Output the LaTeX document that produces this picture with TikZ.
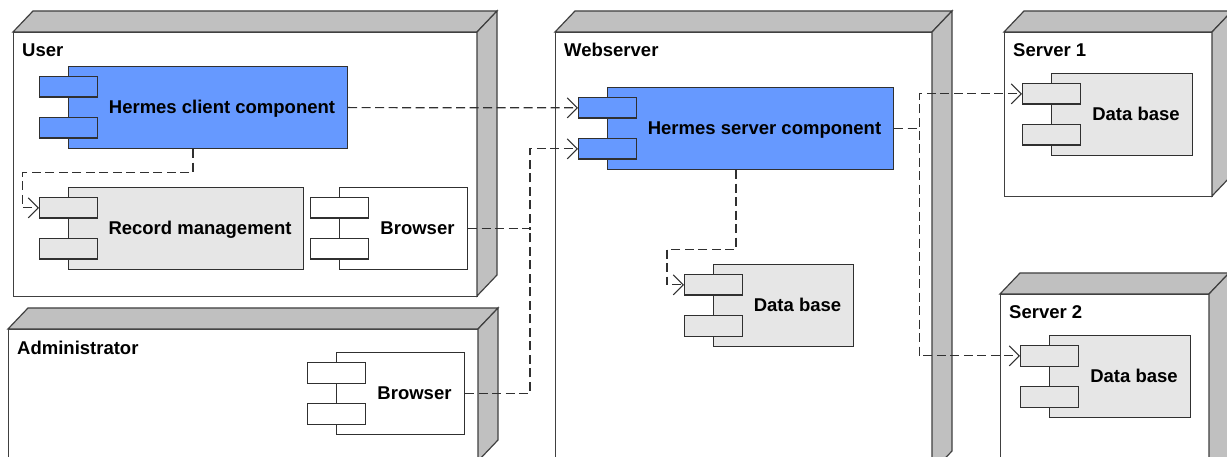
\documentclass[tikz,border=0pt]{standalone}
\usepackage{fontspec}
\setmainfont{Liberation Sans}
\usetikzlibrary{arrows.meta,calc}
\definecolor{compblue}{HTML}{6699FF}
\definecolor{compgray}{HTML}{E6E6E6}
\definecolor{sidegray}{HTML}{C0C0C0}
\definecolor{linegray}{HTML}{404040}
\definecolor{deepgray}{HTML}{303030}
\tikzset{
  devface/.style={draw=linegray, fill=white, line width=1.2pt, inner sep=0pt, rectangle},
  devside/.style={draw=linegray, fill=sidegray, line width=1.2pt, line join=miter},
  devlabel/.style={font=\bfseries\fontsize{18.5}{20}\selectfont, inner sep=0pt},
  compbody/.style={draw=deepgray, line width=1.2pt, inner sep=0pt, minimum height=82pt, rectangle},
  compport/.style={draw=deepgray, line width=1.2pt, inner sep=0pt, minimum width=58pt, minimum height=20.5pt, rectangle},
  comptext/.style={font=\bfseries\fontsize{18.5}{20}\selectfont, inner sep=0pt, anchor=base},
  depline/.style={draw=deepgray, line width=1.2pt, dash pattern=on 9pt off 4.5pt},
  dep/.style={depline, -{Straight Barb[length=10pt,width=20pt,line width=1.1pt]}},
  pics/devnode/.style n args={3}{code={
    \node[devface, minimum width=#1pt, minimum height=#2pt, anchor=north west] (-box) at (0,0) {};
    \path[devside] (0,0) -- (20,-21) -- ({#1+20},-21) -- (#1,0) -- cycle;
    \path[devside] (#1,0) -- ({#1+20},-21) -- ({#1+20},{#2-21}) -- (#1,#2) -- cycle;
    \node[devlabel, anchor=base west] (-label) at (9,25) {#3};
  }},
  pics/comp/.style n args={3}{code={
    \node[compbody, fill=#2, minimum width=#1pt, anchor=north west] (-body) at (0,0) {};
    \node[compport, fill=#2, anchor=north west] (-p1) at (-29,10) {};
    \node[compport, fill=#2, anchor=north west] (-p2) at (-29,51) {};
    \node[comptext] (-label) at ({(29+#1)/2},47.5) {#3};
  }},
}
\begin{document}
\begin{tikzpicture}[x=1pt,y=-1pt]
\useasboundingbox (0,0) rectangle (1227,457);
\clip (0,0) rectangle (1227,457);
% deployment nodes
\pic (user) at (13,32) {devnode={464}{264}{User}};
\pic (admin) at (8,329) {devnode={470}{132}{Administrator}};
\pic (web) at (555,32) {devnode={377}{440}{Webserver}};
\pic (srv1) at (1004,32) {devnode={208}{164}{Server 1}};
\pic (srv2) at (1000,294) {devnode={209}{190}{Server 2}};
% components
\pic (hc) at (68,66) {comp={279}{compblue}{Hermes client component}};
\pic (rm) at (68,187) {comp={235}{compgray}{Record management}};
\pic (ub) at (339,187) {comp={128}{white}{Browser}};
\pic (ab) at (336,352) {comp={128}{white}{Browser}};
\pic (hs) at (607,87) {comp={286}{compblue}{Hermes server component}};
\pic (wdb) at (713,264) {comp={140}{compgray}{Data base}};
\pic (sa) at (1051,73) {comp={141}{compgray}{Data base}};
\pic (sb) at (1049,335) {comp={141}{compgray}{Data base}};
% connectors
\coordinate (bj) at ($(ub-body.east -| hs-p2.west)+(-48,0)$);
\draw[dep] (hc-body.east) -- (hs-p1.west);
\draw[dep] ([xshift=125pt]hc-body.south west) -- ++(0,23) -| ([xshift=-16.3pt]rm-p1.west) -- (rm-p1.west);
\draw[depline] (ab-body.east) -| (bj);
\draw[dep] (ub-body.east) -- (bj) |- (hs-p2.west);
\draw[dep] ([xshift=129pt]hs-body.south west) -- ++(0,79) -| ([xshift=-17pt]wdb-p1.west) -- (wdb-p1.west);
\draw[dep] (hs-body.east) -- ++(25,0) |- (sa-p1.west);
\draw[dep] (hs-body.east) -- ++(25,0) |- (sb-p1.west);
\end{tikzpicture}
\end{document}
